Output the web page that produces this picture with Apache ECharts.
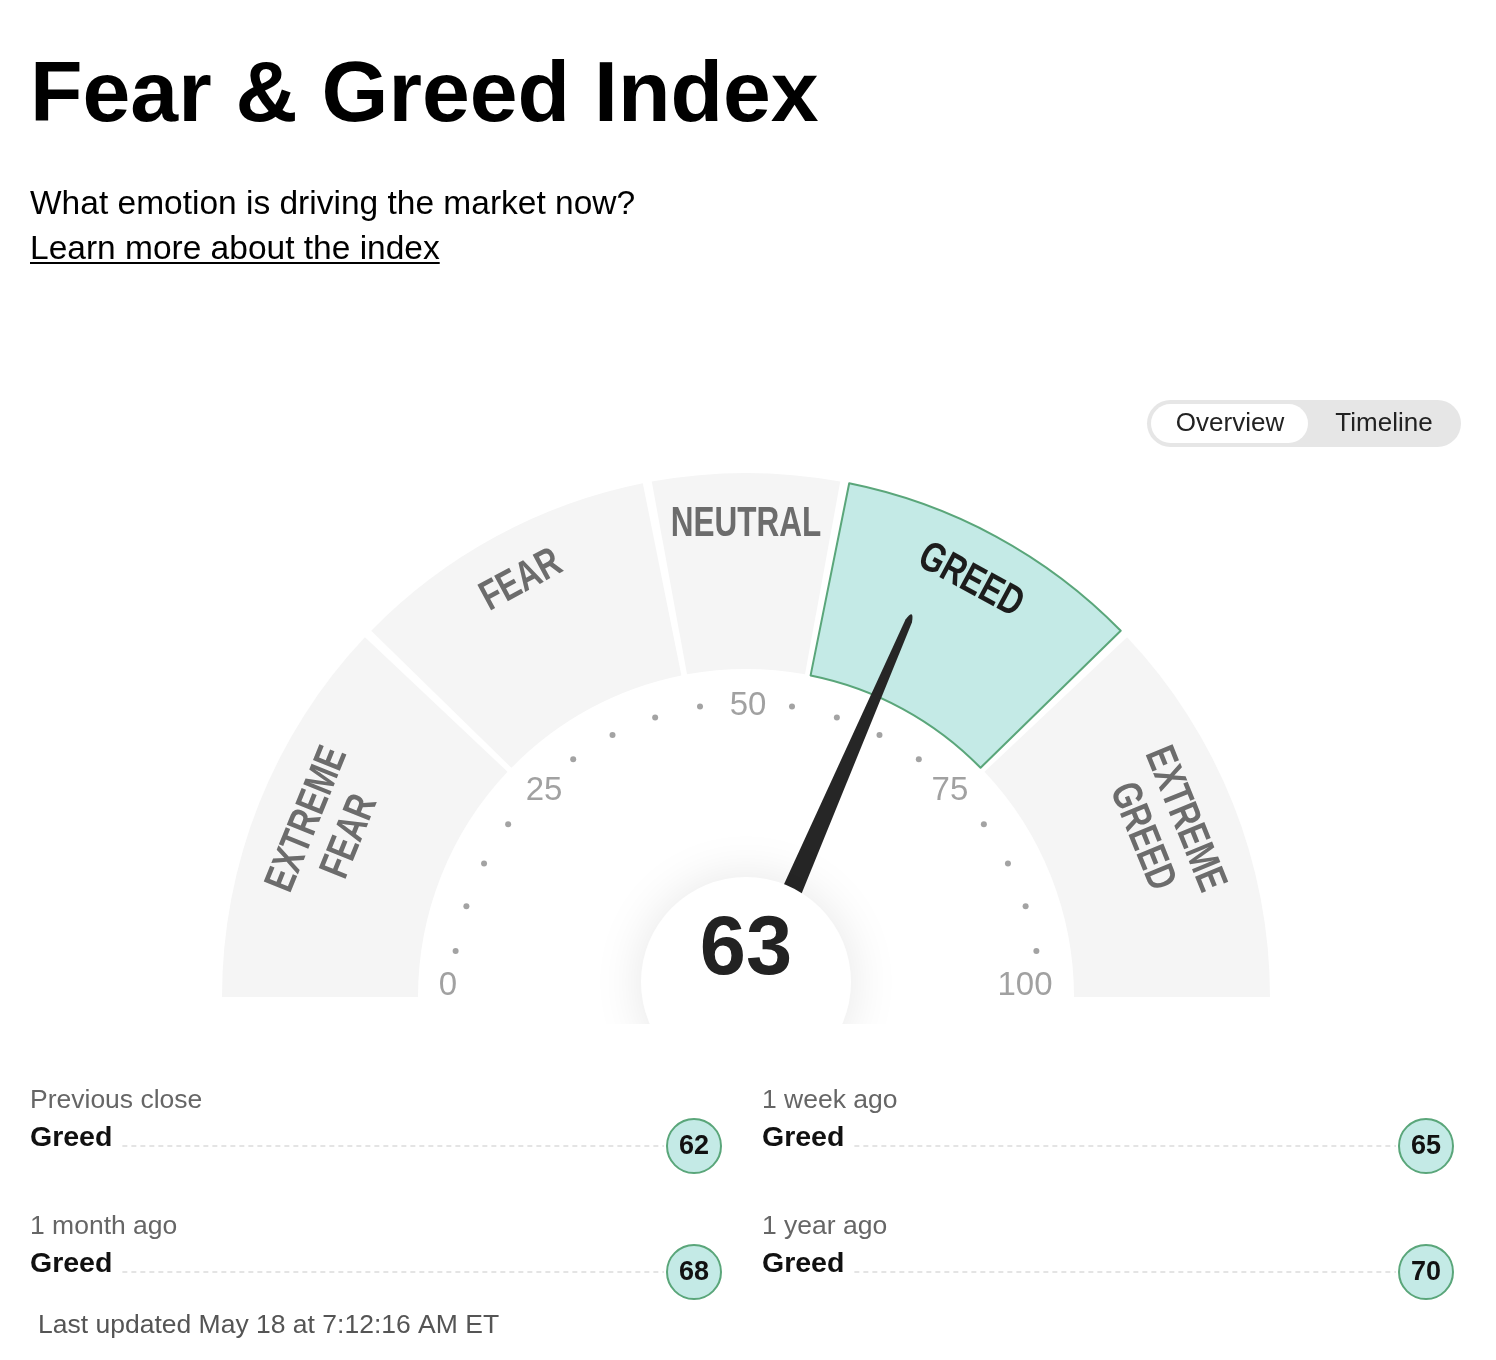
<!DOCTYPE html>
<html>
<head>
<meta charset="utf-8">
<script src="https://cdn.jsdelivr.net/npm/echarts@6/dist/echarts.min.js"></script>
<style>
  html, body { margin: 0; padding: 0; background: #fff; }
  #top { position: absolute; left: 0; top: 0; width: 1496px; height: 1024px; }
  #bottom { position: absolute; left: 0; top: 1024px; width: 1496px; height: 336px; }
</style>
</head>
<body>
<div id="top"></div>
<div id="bottom"></div>
<script>
// ---------------- data ----------------
const currentValue = 63;
const zoneNames = ['EXTREME\nFEAR', 'FEAR', 'NEUTRAL', 'GREED', 'EXTREME\nGREED'];
const zoneSpans = [24.5, 19.5, 12, 19.5, 24.5];
const tickLabelValues = [0, 25, 50, 75, 100];
const dotValues = [5, 10, 15, 20, 30, 35, 40, 45, 55, 60, 65, 70, 80, 85, 90, 95];
const historyLabels = ['Previous close', '1 week ago', '1 month ago', '1 year ago'];
const historyRatings = ['Greed', 'Greed', 'Greed', 'Greed'];
const historyValues = [62, 65, 68, 70];
const titleText = 'Fear & Greed Index';
const subtitleText = 'What emotion is driving the market now?';
const linkText = 'Learn more about the index';
const toggleLabels = ['Overview', 'Timeline'];
const updatedText = 'Last updated May 18 at 7:12:16 AM ET';

// ---------------- styling / layout ----------------
const SANS = '"Liberation Sans", Arial, Helvetica, sans-serif';
const CX = 746, CY = 997;
const TICK_R = 294;
const GRAY = '#f5f5f5', TEAL = '#c4eae6', GREEN = '#5aa67a';

const zoneStarts = [];
let acc = 0, activeZone = 0;
zoneSpans.forEach((s, i) => {
  zoneStarts.push(acc);
  if (currentValue >= acc && currentValue < acc + s) activeZone = i;
  acc += s;
});

const measure = (() => {
  const c = document.createElement('canvas').getContext('2d');
  return (text, font) => { c.font = font; return c.measureText(text).width; };
})();

const zoneData = zoneNames.map((n, i) => ({
  name: n,
  value: zoneSpans[i],
  itemStyle: i === activeZone
    ? { color: TEAL, borderColor: GREEN, borderWidth: 2 }
    : { color: GRAY, borderWidth: 0 }
}));

const tickOffsets = { 0: [-4, -11], 25: [6, 2], 50: [2, 3], 75: [-4, 2], 100: [-15, -11] };

// ---------- top chart ----------
const topChart = echarts.init(document.getElementById('top'), null, { renderer: 'canvas' });
const topGraphics = [];
topGraphics.push({ type: 'text', x: 30, y: 97, style: { text: titleText, font: 'bold 86px ' + SANS, fill: '#000', verticalAlign: 'middle' } });
topGraphics.push({ type: 'text', x: 30, y: 205, style: { text: subtitleText, font: '33.5px ' + SANS, fill: '#000', verticalAlign: 'middle' } });
topGraphics.push({ type: 'text', x: 30, y: 250, style: { text: linkText, font: '33.5px ' + SANS, fill: '#000', verticalAlign: 'middle' } });
const linkW = measure(linkText, '33.5px ' + SANS);
topGraphics.push({ type: 'line', shape: { x1: 30, y1: 263, x2: 30 + linkW, y2: 263 }, style: { stroke: '#000', lineWidth: 2 } });
topGraphics.push({ type: 'rect', shape: { x: 1147, y: 400, width: 314, height: 47, r: 23.5 }, style: { fill: '#e6e6e6' } });
topGraphics.push({ type: 'rect', z: 1, shape: { x: 1151, y: 404, width: 157, height: 39, r: 19.5 }, style: { fill: '#fff' } });
topGraphics.push({ type: 'text', z: 2, x: 1230, y: 424, style: { text: toggleLabels[0], font: '26px ' + SANS, fill: '#222', align: 'center', verticalAlign: 'middle' } });
topGraphics.push({ type: 'text', z: 2, x: 1384, y: 424, style: { text: toggleLabels[1], font: '26px ' + SANS, fill: '#222', align: 'center', verticalAlign: 'middle' } });

topChart.setOption({
  animation: false,
  backgroundColor: '#fff',
  polar: { center: [CX, CY], radius: TICK_R },
  angleAxis: { type: 'value', min: 0, max: 200, startAngle: 180, clockwise: true, show: false },
  radiusAxis: { type: 'value', min: 0, max: 1, show: false },
  graphic: { elements: topGraphics },
  series: [
    {
      type: 'pie', silent: true, z: 1,
      center: [CX, CY], radius: [328, 524],
      startAngle: 180.5, endAngle: -0.5, padAngle: 1,
      clockwise: true, avoidLabelOverlap: false,
      label: { show: false }, labelLine: { show: false },
      data: zoneData
    },
    {
      // zone names, placed through the polar scale
      type: 'custom', coordinateSystem: 'polar', silent: true, z: 2,
      data: zoneNames.map((n, i) => [((n.indexOf('\n') >= 0) ? 450 : 473) / TICK_R, zoneStarts[i] + zoneSpans[i] / 2, i]),
      renderItem: (params, api) => {
        const i = api.value(2);
        const mid = api.value(1);
        const pt = api.coord([api.value(0), mid]);
        const phi = (180 - mid * 1.8) * Math.PI / 180;
        return {
          type: 'text', x: pt[0], y: pt[1], rotation: phi - Math.PI / 2, scaleX: 0.75,
          style: {
            text: zoneNames[i], font: 'bold 42px ' + SANS,
            fill: i === activeZone ? '#1c1c1c' : '#6c6c6c',
            align: 'center', verticalAlign: 'middle', lineHeight: 46
          }
        };
      }
    },
    {
      type: 'scatter', coordinateSystem: 'polar', silent: true, z: 3,
      symbol: 'circle', symbolSize: 6,
      itemStyle: { color: '#8c8c8c' },
      data: dotValues.map(v => [1, v])
    },
    {
      type: 'scatter', coordinateSystem: 'polar', silent: true, z: 3,
      symbolSize: 0,
      label: {
        show: true, position: 'inside', color: '#8a8a8a',
        fontFamily: SANS, fontSize: 33,
        formatter: p => String(p.value[1])
      },
      data: tickLabelValues.map(v => ({ value: [1, v], label: { offset: tickOffsets[v] } }))
    },
    {
      type: 'gauge', silent: true, z: 4,
      center: [CX, CY], radius: 417,
      startAngle: 180, endAngle: 0, min: 0, max: 100,
      axisLine: { show: false }, splitLine: { show: false }, axisTick: { show: false }, axisLabel: { show: false },
      pointer: {
        show: true,
        icon: 'path://M9,2 Q12.5,-1.5 16,2 L25,100 L0,100 Z',
        length: 417, width: 25,
        itemStyle: { color: '#262626' }
      },
      anchor: {
        show: true, showAbove: true, size: 210, offsetCenter: [0, -15],
        itemStyle: { color: '#fff', shadowBlur: 50, shadowColor: 'rgba(0,0,0,0.10)' }
      },
      title: { show: false },
      detail: { show: false },
      data: [{ value: currentValue }]
    },
    {
      type: 'gauge', silent: true, z: 6,
      center: [CX, CY], radius: 417,
      startAngle: 180, endAngle: 0, min: 0, max: 100,
      axisLine: { show: false }, splitLine: { show: false }, axisTick: { show: false }, axisLabel: { show: false },
      pointer: { show: false }, anchor: { show: false }, title: { show: false },
      detail: {
        show: true, offsetCenter: [0, -46],
        fontFamily: SANS, fontWeight: 'bold', fontSize: 83, color: '#222',
        formatter: '{value}'
      },
      data: [{ value: currentValue }]
    }
  ]
});

// ---------- bottom chart (history) ----------
const bottomChart = echarts.init(document.getElementById('bottom'), null, { renderer: 'canvas' });
const OY = 1024;
const bottomGraphics = [];
const colX = [30, 762], badgeX = [694, 1426], rowY = [1101, 1227];
historyLabels.forEach((lab, i) => {
  const col = i % 2, row = Math.floor(i / 2);
  const x = colX[col], y = rowY[row] - OY;
  bottomGraphics.push({ type: 'text', x: x, y: y, style: { text: lab, font: '26.5px ' + SANS, fill: '#666', verticalAlign: 'middle' } });
  const rf = 'bold 28.5px ' + SANS;
  bottomGraphics.push({ type: 'text', x: x, y: y + 37, style: { text: historyRatings[i], font: rf, fill: '#111', verticalAlign: 'middle' } });
  const rw = measure(historyRatings[i], rf);
  const bx = badgeX[col], by = y + 45;
  bottomGraphics.push({ type: 'line', shape: { x1: x + rw + 10, y1: by, x2: bx - 30, y2: by }, style: { stroke: '#dcdcdc', lineWidth: 1.5, lineDash: [5, 4] } });
  bottomGraphics.push({ type: 'circle', z: 1, shape: { cx: bx, cy: by, r: 27 }, style: { fill: TEAL, stroke: GREEN, lineWidth: 2 } });
  bottomGraphics.push({ type: 'text', z: 2, x: bx, y: by + 1, style: { text: String(historyValues[i]), font: 'bold 27px ' + SANS, fill: '#111', align: 'center', verticalAlign: 'middle' } });
});
bottomGraphics.push({ type: 'text', x: 38, y: 1326 - OY, style: { text: updatedText, font: '26.5px ' + SANS, fill: '#555', verticalAlign: 'middle' } });

bottomChart.setOption({
  animation: false,
  backgroundColor: '#fff',
  graphic: { elements: bottomGraphics },
  series: []
});
</script>
</body>
</html>
